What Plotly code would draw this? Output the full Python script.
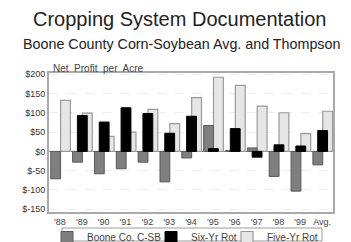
import plotly.graph_objects as go

categories = ["'88", "'89", "'90", "'91", "'92", "'93", "'94", "'95", "'96", "'97", "'98", "'99", "Avg."]
boone = [-71, -28, -58, -45, -28, -79, -17, 67, 2, 9, -65, -103, -35]
six_yr = [None, 93, 76, 113, 98, 47, 91, 7, 59, -15, 17, 14, 54]
five_yr = [132, 99, 39, 50, 109, 72, 139, 192, 171, 117, 100, 46, 104]
y_ticks = [200, 150, 100, 50, 0, -50, -100, -150]
y_labels = ["$200", "$150", "$100", "$50", "$0", "$-50", "$-100", "$-150"]

FONT = "Liberation Sans, Arial, sans-serif"
W = 0.45
x = list(range(len(categories)))

L, R, T, B = 49, 18, 73, 30
plot_w = 351 - L - R
plot_h = 242 - T - B

def px_x(p):
    return (p - L) / plot_w

def px_y(p):
    return (242 - B - p) / plot_h

fig = go.Figure()
fig.add_trace(go.Bar(x=x, y=five_yr, name="Five-Yr Rot", width=W, offset=0.03, legend="legend3",
                     marker=dict(color="#e6e6e6", line=dict(color="#9a9a9a", width=1.2))))
fig.add_trace(go.Bar(x=x, y=boone, name="Boone Co. C-SB", width=W, offset=-0.42, legend="legend",
                     marker=dict(color="#7f7f7f", line=dict(color="#5a5a5a", width=1))))
fig.add_trace(go.Bar(x=x, y=six_yr, name="Six-Yr Rot", width=W, offset=-0.2, legend="legend2",
                     marker=dict(color="#000000", line=dict(color="#000000", width=1))))

def leg(sc):
    return dict(orientation="h", x=px_x(sc - 20), xanchor="left", y=px_y(223), yanchor="top",
                borderwidth=0, bgcolor="rgba(0,0,0,0)", itemwidth=30,
                font=dict(size=10, color="#444444"))

fig.update_layout(
    width=351, height=242,
    margin=dict(l=L, r=R, t=T, b=B, autoexpand=False),
    barmode="overlay",
    plot_bgcolor="white", paper_bgcolor="white",
    font=dict(family=FONT, color="#333333", size=10),
    showlegend=True,
    legend=leg(67), legend2=leg(171), legend3=leg(247),
    xaxis=dict(tickmode="array", tickvals=x, ticktext=categories, range=[-0.5, 12.5],
               showgrid=False, zeroline=False, showline=True, linecolor="#aaaaaa",
               linewidth=2, mirror=True, ticks="", ticklen=0, tickfont=dict(size=9, color="#444444")),
    yaxis=dict(tickmode="array", tickvals=y_ticks, ticktext=y_labels, range=[-157, 203],
               showgrid=True, gridcolor="#eeeeee", gridwidth=1, griddash="dash",
               zeroline=True, zerolinecolor="#888888", zerolinewidth=1,
               showline=True, linecolor="#aaaaaa", linewidth=2, mirror=True,
               ticks="", ticklen=0, tickfont=dict(size=9, color="#333333")),
    shapes=[dict(type="rect", xref="paper", yref="paper", x0=px_x(62), x1=px_x(322),
                 y0=px_y(228), y1=px_y(241), line=dict(color="#9a9a9a", width=1),
                 fillcolor="rgba(0,0,0,0)", layer="below")],
    annotations=[
        dict(text="Cropping System Documentation", x=px_x(179.5), xref="paper", y=px_y(19), yref="paper",
             yanchor="middle", showarrow=False, font=dict(size=20, color="#222222")),
        dict(text="Boone County Corn-Soybean Avg. and Thompson", x=px_x(181.5), xref="paper",
             y=px_y(43.5), yref="paper", yanchor="middle", showarrow=False,
             font=dict(size=14.3, color="#222222")),
        dict(text="Net  Profit  per  Acre", x=px_x(51), xref="paper", y=px_y(68), yref="paper",
             xanchor="left", yanchor="middle", showarrow=False, font=dict(size=10, color="#444444")),
    ],
)

fig.write_html("out.html", config={"displayModeBar": False},
               post_script="document.body.style.margin='0';")
